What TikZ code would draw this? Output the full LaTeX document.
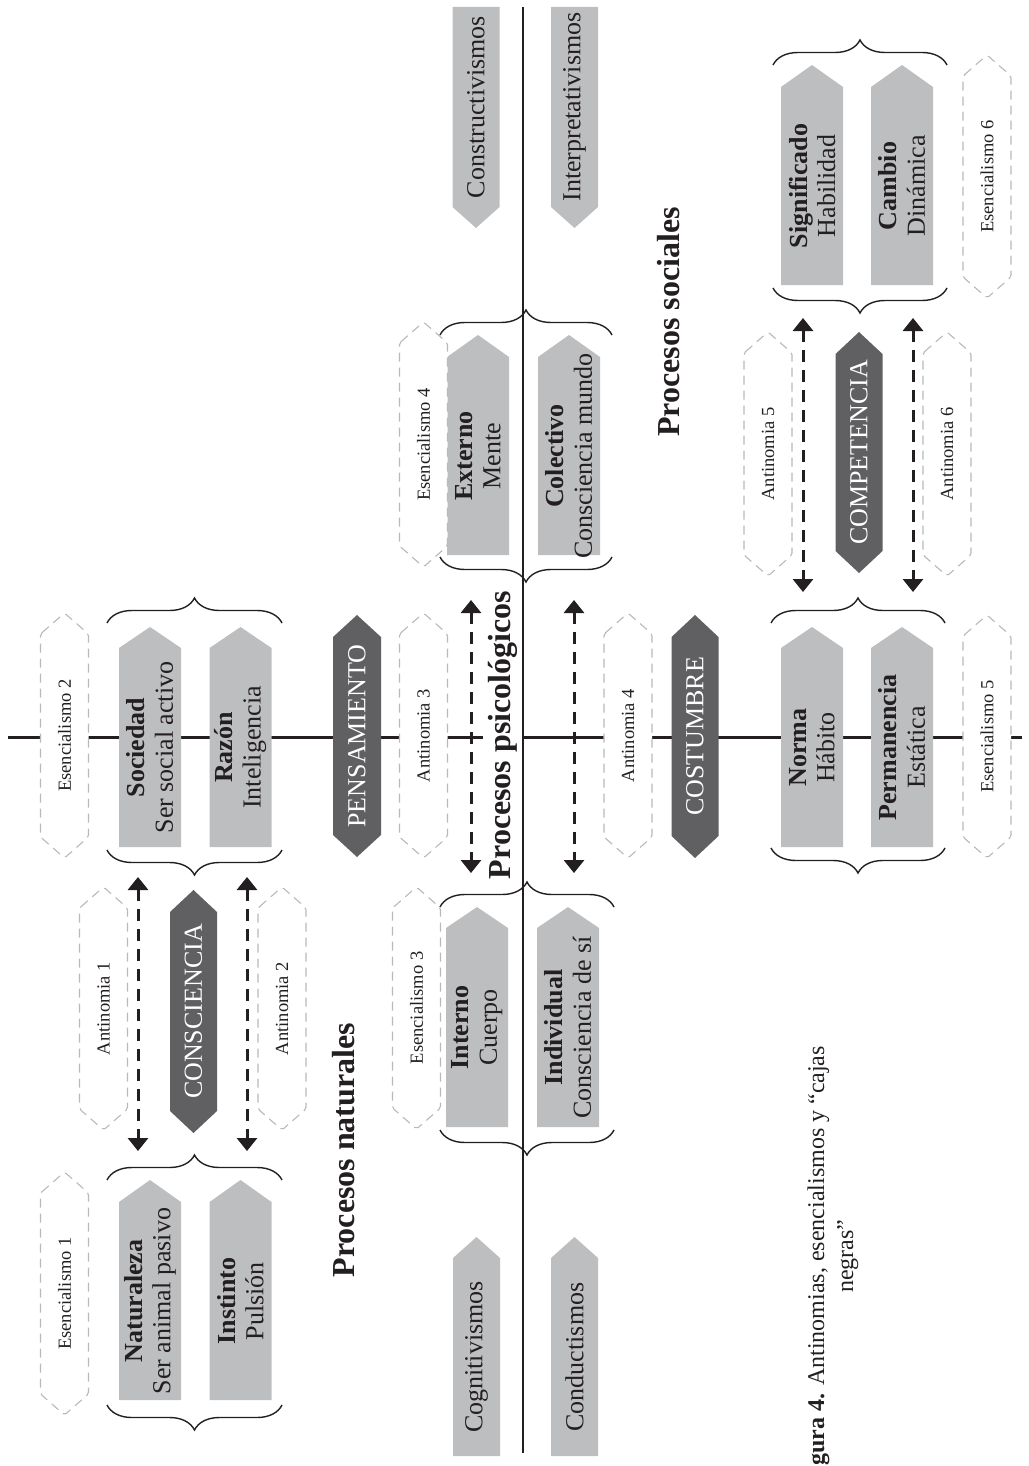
\documentclass[tikz,border=0pt]{standalone}
\usepackage{fontspec}
\setmainfont{Liberation Serif}
\usetikzlibrary{arrows.meta,decorations.pathreplacing}
\definecolor{boxgrey}{RGB}{189,190,192}
\definecolor{darkgrey}{RGB}{96,96,98}
\definecolor{dashgrey}{RGB}{185,185,185}
\definecolor{inkblack}{RGB}{35,31,32}
\newcommand\FontBox{\fontsize{26}{28}\selectfont}
\newcommand\FontSmall{\fontsize{18.5}{22}\selectfont}
\newcommand\FontTitle{\bfseries\fontsize{32}{36}\selectfont}
\newcommand\FontCap{\fontsize{24}{29}\selectfont}
% pentagon pointing up: name, cx, halfwidth, ytip, tiplen, ybottom, text, node style
\newcommand\penup[8]{%
  \fill[boxgrey] (#2-#3,#6) -- (#2-#3,#4+#5) -- (#2,#4) -- (#2+#3,#4+#5) -- (#2+#3,#6) -- cycle;
  \node[#8] (#1) at (#2,{(#4+#5+#6)/2}) {#7};}
% pentagon pointing down: name, cx, halfwidth, ytop, ytip, tiplen, text, node style
\newcommand\pendown[8]{%
  \fill[boxgrey] (#2-#3,#4) -- (#2+#3,#4) -- (#2+#3,#5-#6) -- (#2,#5) -- (#2-#3,#5-#6) -- cycle;
  \node[#8] (#1) at (#2,{(#4+#5-#6)/2}) {#7};}
% hexagon: name, cx, halfwidth, ytoptip, ybottomtip, tiplen, text, style prefix
\newcommand\hexa[8]{%
  \path[#8shape] (#2-#3,#4+#6) -- (#2,#4) -- (#2+#3,#4+#6) -- (#2+#3,#5-#6) -- (#2,#5) -- (#2-#3,#5-#6) -- cycle;
  \node[#8text] (#1) at (#2,{(#4+#5)/2}) {#7};}
\begin{document}
\begin{tikzpicture}[x=1pt,y=-1pt,
  boxtext/.style={rotate=90,inner sep=0pt,align=center,font=\FontBox,text=inkblack},
  darkshape/.style={fill=darkgrey},
  darktext/.style={rotate=90,inner sep=0pt,font=\FontBox,text=white},
  dashshape/.style={draw=dashgrey,fill=white,line width=1.1pt,dash pattern=on 9pt off 6pt,rounded corners=2pt},
  dashtext/.style={rotate=90,inner sep=0pt,font=\FontSmall,text=inkblack},
  axis/.style={line width=2.6pt,draw=inkblack},
  brc/.style={decorate,decoration={brace,amplitude=25pt},line width=1.4pt,draw=inkblack},
  dasharrow/.style={line width=3pt,dash pattern=on 12pt off 8pt,draw=inkblack,
    {Triangle[width=20pt,length=13pt]}-{Triangle[width=20pt,length=13pt]}},
  title/.style={rotate=90,font=\FontTitle,text=inkblack},
]
\useasboundingbox (0,0) rectangle (1028,1466);

% axes
\coordinate (hL) at (8,737.5);
\coordinate (hR) at (1022,737.5);
\coordinate (vT) at (523,7);
\coordinate (vB) at (523,1453);
\draw[axis] (hL) -- (hR);

% grey boxes
\penup{nat}{150}{31}{1180}{22}{1400}{\textbf{Naturaleza}\\Ser animal pasivo}{boxtext}
\penup{ins}{240.5}{31}{1180}{22}{1400}{\textbf{Instinto}\\Pulsión}{boxtext}
\penup{soc}{150}{31}{627}{21}{847}{\textbf{Sociedad}\\Ser social activo}{boxtext}
\penup{raz}{240.5}{31}{627}{21}{847}{\textbf{Razón}\\Inteligencia}{boxtext}
\penup{ext}{478}{31}{335}{22}{555}{\textbf{Externo}\\Mente}{boxtext}
\penup{col}{569}{31}{335}{22}{555}{\textbf{Colectivo}\\Consciencia mundo}{boxtext}
\penup{int}{477}{31}{907}{21}{1127}{\textbf{Interno}\\Cuerpo}{boxtext}
\penup{ind}{568}{31}{907}{21}{1127}{\textbf{Individual}\\Consciencia de sí}{boxtext}
\penup{nor}{812}{31}{627}{21}{847}{\textbf{Norma}\\Hábito}{boxtext}
\penup{per}{902}{31}{627}{21}{847}{\textbf{Permanencia}\\Estática}{boxtext}
\penup{sig}{812}{31}{65}{22}{285}{\textbf{Significado}\\Habilidad}{boxtext}
\penup{cam}{902}{31}{65}{22}{285}{\textbf{Cambio}\\Dinámica}{boxtext}
\penup{cog}{476.5}{23.5}{1237}{21}{1456}{Cognitivismos}{boxtext}
\penup{cnd}{574.5}{23.5}{1237}{21}{1456}{Conductismos}{boxtext}
\pendown{cns}{476}{23.5}{7}{228}{21}{Constructivismos}{boxtext}
\pendown{itp}{574.5}{23.5}{7}{228}{21}{Interpretativismos}{boxtext}

% dark hexagons
\hexa{consc}{193.5}{23.5}{890}{1133}{22}{CONSCIENCIA}{dark}
\hexa{pens}{357}{24}{615}{857}{22}{PENSAMIENTO}{dark}
\hexa{cost}{695}{23.5}{615}{858}{22}{COSTUMBRE}{dark}
\hexa{comp}{859}{23.5}{332}{573}{22}{COMPETENCIA}{dark}

% dashed hexagons
\hexa{es1}{64.5}{24}{1172}{1415}{21}{Esencialismo 1}{dash}
\hexa{es2}{64.5}{24}{613}{858}{21}{Esencialismo 2}{dash}
\hexa{es3}{416.5}{24}{887}{1129}{21}{Esencialismo 3}{dash}
\hexa{es4}{423.5}{24}{322}{567}{21}{Esencialismo 4}{dash}
\hexa{es5}{987}{24}{615}{858}{21}{Esencialismo 5}{dash}
\hexa{es6}{987}{24}{55}{298}{21}{Esencialismo 6}{dash}
\hexa{an1}{103.5}{24}{887}{1130}{21}{Antinomia 1}{dash}
\hexa{an2}{282}{24}{887}{1130}{21}{Antinomia 2}{dash}
\hexa{an3}{423.5}{24}{613}{858}{21}{Antinomia 3}{dash}
\hexa{an4}{628}{24}{613}{858}{21}{Antinomia 4}{dash}
\hexa{an5}{768}{24}{332}{576}{21}{Antinomia 5}{dash}
\hexa{an6}{947}{24}{332}{576}{21}{Antinomia 6}{dash}

% braces
\draw[brc] (107,1180) -- (282,1180);
\draw[brc] (282,1405) -- (107,1405);
\draw[brc] (107,623) -- (282,623);
\draw[brc] (282,850) -- (107,850);
\draw[brc] (440,335) -- (612,335);
\draw[brc] (612,557) -- (440,557);
\draw[brc] (440,907) -- (614,907);
\draw[brc] (614,1130) -- (440,1130);
\draw[brc] (771,623) -- (945,623);
\draw[brc] (945,848) -- (771,848);
\draw[brc] (773,65) -- (947,65);
\draw[brc] (947,288) -- (773,288);

% double arrows
\coordinate (a1t) at (138,877);  \coordinate (a1b) at (138,1151);
\coordinate (a2t) at (247,877);  \coordinate (a2b) at (247,1151);
\coordinate (a3t) at (471,600);  \coordinate (a3b) at (471,873);
\coordinate (a4t) at (574,600);  \coordinate (a4b) at (574,873);
\coordinate (a5t) at (803,318);  \coordinate (a5b) at (803,592);
\coordinate (a6t) at (913,318);  \coordinate (a6b) at (913,592);
\draw[dasharrow] (a1t) -- (a1b);
\draw[dasharrow] (a2t) -- (a2b);
\draw[dasharrow] (a3t) -- (a3b);
\draw[dasharrow] (a4t) -- (a4b);
\draw[dasharrow] (a5t) -- (a5b);
\draw[dasharrow] (a6t) -- (a6b);

% titles
\node[title] (pnat) at (344,1150) {Procesos naturales};
\node[title,fill=white,inner xsep=1pt,inner ysep=5pt] (ppsi) at (502.5,735) {Procesos psicológicos};
\node[title] (psoc) at (669,322) {Procesos sociales};

\draw[axis] (vT) -- (vB);

% caption (as printed, cut at the page edge)
\node[rotate=90,align=center,font=\FontCap,text=inkblack,inner sep=0pt] (cap) at (833,1256)
  {\textbf{gura 4.} Antinomias, esencialismos y “cajas\\negras”};
\end{tikzpicture}
\end{document}
